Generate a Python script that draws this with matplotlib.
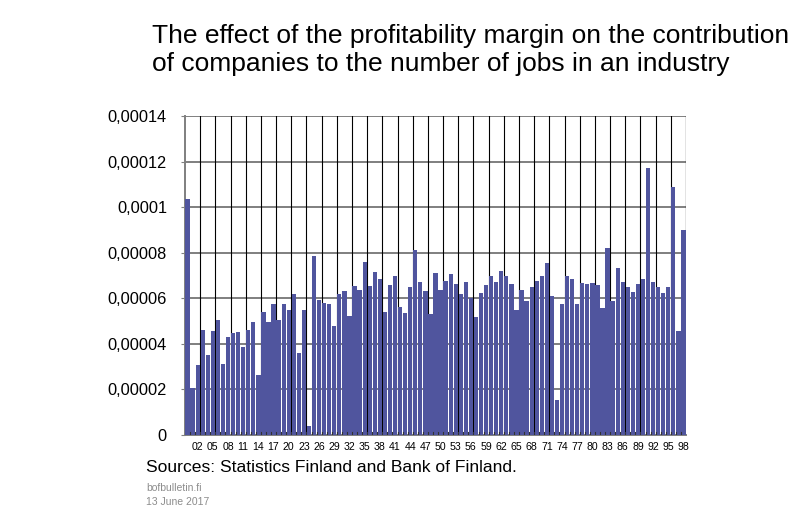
import matplotlib
matplotlib.use("Agg")
import matplotlib.pyplot as plt
import numpy as np

plt.rcParams['font.family'] = ['Liberation Sans', 'DejaVu Sans']

categories = [f"{i:02d}" for i in range(99)]
values_e5 = [10.35, 2.07, 3.07, 4.63, 3.53, 4.58, 5.05, 3.11, 4.28, 4.48,
             4.53, 3.88, 4.63, 4.96, 2.63, 5.40, 4.98, 5.75, 5.05, 5.75,
             5.49, 6.19, 3.58, 5.49, 0.39, 7.85, 5.91, 5.81, 5.75, 4.79,
             6.19, 6.31, 5.23, 6.53, 6.35, 7.59, 6.53, 7.17, 6.83, 5.42,
             6.57, 6.96, 5.62, 5.36, 6.48, 8.12, 6.70, 6.31, 5.31, 7.09,
             6.35, 6.74, 7.05, 6.61, 6.18, 6.70, 6.00, 5.18, 6.23, 6.57,
             6.96, 6.70, 7.21, 6.96, 6.61, 5.49, 6.35, 5.87, 6.48, 6.74,
             6.96, 7.56, 6.09, 1.52, 5.75, 6.96, 6.86, 5.75, 6.66, 6.61,
             6.66, 6.57, 5.58, 8.22, 5.87, 7.34, 6.70, 6.48, 6.26, 6.61,
             6.83, 11.71, 6.70, 6.48, 6.23, 6.48, 10.88, 4.58, 8.98]
values = [v * 1e-5 for v in values_e5]

ytick_vals = [0, 0.00002, 0.00004, 0.00006, 0.00008, 0.0001, 0.00012, 0.00014]
ytick_labels = ["0", "0,00002", "0,00004", "0,00006", "0,00008", "0,0001", "0,00012", "0,00014"]

title = "The effect of the profitability margin on the contribution\nof companies to the number of jobs in an industry"
source = "Sources: Statistics Finland and Bank of Finland."

fig = plt.figure(figsize=(8.01, 5.22), dpi=100)
ax = fig.add_axes([185/801, 1-435/522, (686-185)/801, (435-116)/522])

x = np.arange(len(categories))
ax.bar(x, values, width=0.85, color='#50559E', zorder=3)

ax.set_xlim(-0.5, len(categories) - 0.5)
ax.set_ylim(0, 0.00014)

ax.set_yticks(ytick_vals)
ax.set_yticklabels(ytick_labels, fontsize=11.8)
lab_idx = list(range(2, len(categories), 3))
ax.set_xticks(lab_idx)
ax.set_xticklabels([categories[i] for i in lab_idx], fontsize=7.6)
ax.tick_params(axis='x', length=0, pad=5)
ax.tick_params(axis='y', length=3, color='#808080', pad=10)

# horizontal gridlines
for v in ytick_vals[1:]:
    ax.axhline(v, color='#7f7f7f', lw=1.4, zorder=1)
# vertical gridlines every three categories
for b in np.arange(2.5, len(categories), 3):
    ax.axvline(b, color='#000000', lw=0.8, zorder=1)
ax.axvline(len(categories) - 0.5, color='#000000', lw=0.8, zorder=1)

# small category tick marks at the bottom
for b in np.arange(0.5, len(categories) - 1, 1):
    ax.plot([b, b], [0, 0.0000012], color='#333333', lw=0.8, zorder=4)

for s in ['top', 'right']:
    ax.spines[s].set_visible(False)
ax.spines['left'].set_color('#7f7f7f')
ax.spines['left'].set_linewidth(1.4)
ax.spines['bottom'].set_color('#7f7f7f')
ax.spines['bottom'].set_linewidth(1.4)

fig.text(152/801, 1-50/522, title, fontsize=19, va='center', ha='left', linespacing=1.22)
fig.text(146/801, 1-468/522, source, fontsize=12.6, va='center', ha='left')
fig.text(146/801, 1-488/522, "bofbulletin.fi", fontsize=7.5, va='center', ha='left', color='#8c8c8c')
fig.text(146/801, 1-502/522, "13 June 2017", fontsize=7.5, va='center', ha='left', color='#8c8c8c')

fig.savefig("out.png", dpi=100)
